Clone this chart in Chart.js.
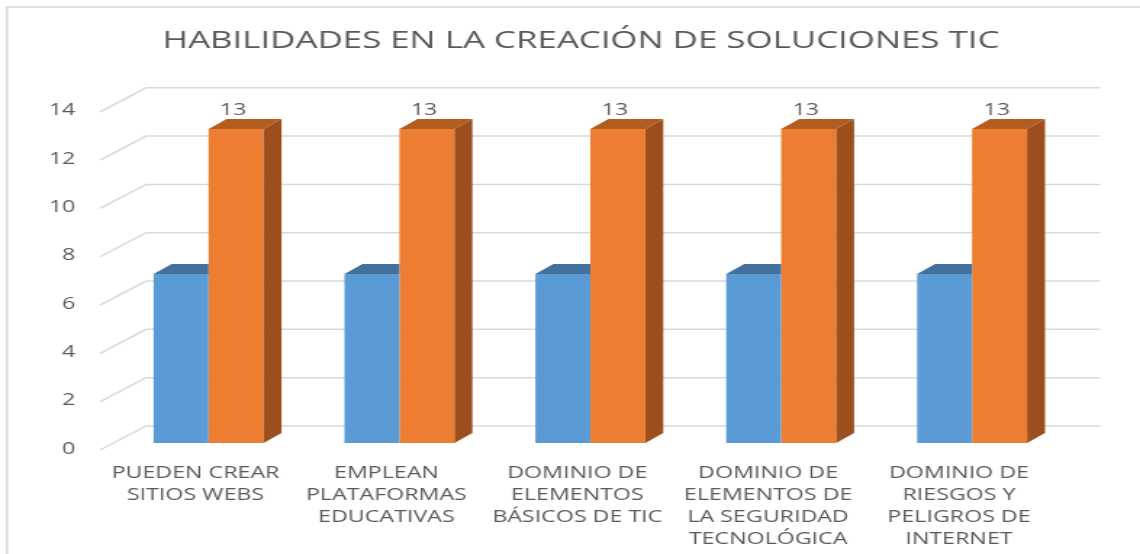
<!DOCTYPE html>
<html>
<head>
<meta charset="utf-8">
<script src="https://cdn.jsdelivr.net/npm/chart.js@4.4.1/dist/chart.umd.min.js"></script>
<style>
html,body{margin:0;padding:0;background:#fff;overflow:hidden;}
#wrap{width:1140px;height:554px;position:relative;overflow:hidden;}
#c{transform:scaleX(1.4504);transform-origin:0 0;}
</style>
</head>
<body>
<div id="wrap"><canvas id="c" width="786" height="554"></canvas></div>
<script>
const categories = [
  ["PUEDEN CREAR","SITIOS WEBS"],
  ["EMPLEAN","PLATAFORMAS","EDUCATIVAS"],
  ["DOMINIO DE","ELEMENTOS","BÁSICOS DE TIC"],
  ["DOMINIO DE","ELEMENTOS DE","LA SEGURIDAD","TECNOLÓGICA"],
  ["DOMINIO DE","RIESGOS Y","PELIGROS DE","INTERNET"]
];
const seriesBlue = [7, 7, 7, 7, 7];
const seriesOrange = [13, 13, 13, 13, 13];
const yTicks = [0, 2, 4, 6, 8, 10, 12, 14];
const titleText = "HABILIDADES EN LA CREACIÓN DE SOLUCIONES TIC";

const TXT = '#595959';
const GRID = '#d9d9d9';
const FONT = '"Open Sans", sans-serif';
const BAR_DX = 9, BAR_DY = -6;      // bar position inside the depth
const DEP_DX = 12.4, DEP_DY = -10;  // bar depth
const WALL_DX = 31.7, WALL_DY = -23;// wall depth

const faces = [
  {top: '#41719c', side: '#3a6690'},
  {top: '#b35d21', side: '#9c4f1c'}
];

const plugin3d = {
  id: 'plugin3d',
  beforeDraw(chart) {
    const ctx = chart.ctx;
    ctx.save();
    ctx.strokeStyle = GRID;
    ctx.lineWidth = 1.6;
    ctx.strokeRect(4.8, 7, 1000, 700);
    ctx.restore();
  },
  beforeDatasetsDraw(chart) {
    const ctx = chart.ctx, y = chart.scales.y, a = chart.chartArea;
    ctx.save();
    ctx.strokeStyle = GRID;
    ctx.lineWidth = 1.5;
    yTicks.forEach(v => {
      const p = y.getPixelForValue(v);
      ctx.beginPath();
      ctx.moveTo(a.left, p + 1);
      ctx.lineTo(a.left + WALL_DX, p + WALL_DY);
      ctx.lineTo(a.right + WALL_DX, p + WALL_DY);
      ctx.stroke();
    });
    ctx.restore();
  },
  beforeDatasetDraw(chart) {
    chart.ctx.save();
    chart.ctx.translate(BAR_DX, BAR_DY);
  },
  afterDatasetDraw(chart, args) {
    const ctx = chart.ctx;
    const f = faces[args.index];
    const isLast = args.index === chart.data.datasets.length - 1;
    args.meta.data.forEach((el, i) => {
      const {x, y, base, width} = el.getProps(['x','y','base','width'], true);
      const l = x - width/2, r = x + width/2;
      ctx.fillStyle = f.top;
      ctx.beginPath();
      ctx.moveTo(l, y); ctx.lineTo(l + DEP_DX, y + DEP_DY);
      if (isLast) { ctx.lineTo(r + DEP_DX, y + DEP_DY); } else { ctx.lineTo(r, y + DEP_DY); }
      ctx.lineTo(r, y);
      ctx.closePath(); ctx.fill();
      if (isLast) {
        ctx.fillStyle = f.side;
        ctx.beginPath();
        ctx.moveTo(r, y); ctx.lineTo(r + DEP_DX, y + DEP_DY);
        ctx.lineTo(r + DEP_DX, base + DEP_DY); ctx.lineTo(r, base);
        ctx.closePath(); ctx.fill();
        ctx.fillStyle = TXT;
        ctx.font = '16px ' + FONT;
        ctx.textAlign = 'center';
        ctx.textBaseline = 'middle';
        ctx.fillText(String(chart.data.datasets[args.index].data[i]), x - 2, y - 19);
      }
    });
    ctx.restore();
  }
};

new Chart(document.getElementById('c'), {
  type: 'bar',
  data: {
    labels: categories,
    datasets: [
      {label: 'Serie 1', data: seriesBlue, backgroundColor: '#5b9bd5', yAxisID: 'y',
       barPercentage: 1, categoryPercentage: 0.576},
      {label: 'Serie 2', data: seriesOrange, backgroundColor: '#ed7d31', yAxisID: 'y',
       barPercentage: 1, categoryPercentage: 0.576}
    ]
  },
  options: {
    responsive: false,
    animation: false,
    devicePixelRatio: 1,
    layout: {padding: {left: 15, right: 0, top: 0, bottom: 0}},
    plugins: {
      legend: {display: false},
      tooltip: {enabled: false},
      title: {
        display: true, text: titleText, color: TXT,
        font: {family: FONT, size: 24, weight: 'normal'},
        padding: {top: 27, bottom: 55}
      }
    },
    scales: {
      x: {
        grid: {display: false, drawTicks: false},
        border: {display: false},
        ticks: {color: TXT, maxRotation: 0, autoSkip: false, padding: 13,
          font: {family: FONT, size: 16, lineHeight: 1.375}},
        afterFit(s) { s.height = 105; }
      },
      y: {
        min: 0, max: 14,
        afterBuildTicks(s) { s.ticks = yTicks.map(v => ({value: v})); },
        grid: {display: false, drawTicks: false},
        border: {display: false},
        ticks: {color: TXT, padding: 17, font: {family: FONT, size: 16}},
        afterFit(s) { s.width = 54; }
      },
      y2: {
        position: 'right', min: 0, max: 14,
        grid: {display: false, drawTicks: false},
        border: {display: false},
        ticks: {display: false},
        afterFit(s) { s.width = 59; }
      }
    }
  },
  plugins: [plugin3d]
});
</script>
</body>
</html>
